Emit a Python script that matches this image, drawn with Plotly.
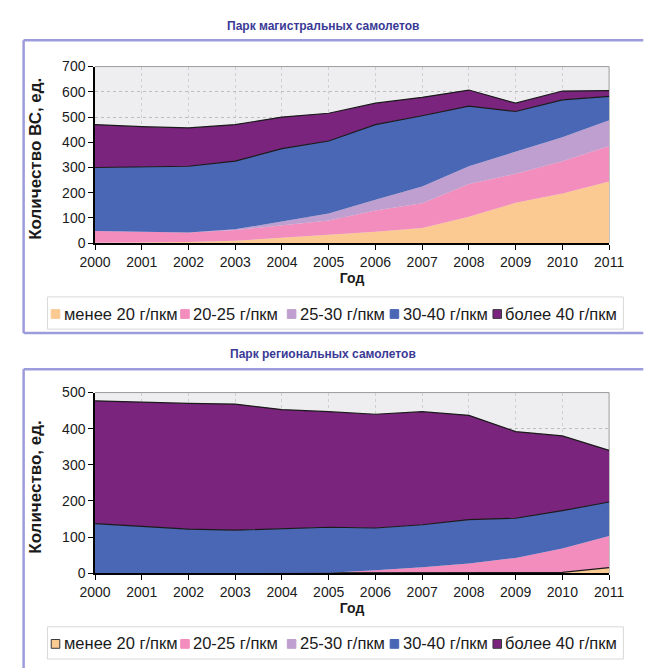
import plotly.graph_objects as go

# ---- data -------------------------------------------------------------
years = list(range(2000, 2012))

series_names = ["менее 20 г/пкм", "20-25 г/пкм", "25-30 г/пкм", "30-40 г/пкм", "более 40 г/пкм"]
series_colors = ["#FBC992", "#F28DBD", "#BE9FCF", "#4A67B6", "#7B247E"]

# fleet of mainline aircraft, units by fuel-efficiency class
main_lt20 = [2, 3, 5, 10, 22, 32, 45, 60, 105, 160, 197, 245]
main_20_25 = [46, 42, 37, 42, 50, 58, 85, 98, 130, 115, 128, 140]
main_25_30 = [0, 0, 0, 3, 13, 28, 42, 67, 70, 87, 95, 102]
main_30_40 = [252, 257, 263, 270, 290, 287, 298, 280, 238, 160, 148, 95]
main_gt40 = [170, 160, 152, 145, 125, 110, 85, 73, 64, 33, 35, 23]

# fleet of regional aircraft
reg_lt20 = [0, 0, 0, 0, 0, 0, 0, 0, 0, 0, 2, 15]
reg_20_25 = [0, 0, 0, 0, 0, 1, 8, 16, 27, 42, 66, 88]
reg_25_30 = [0, 0, 0, 0, 0, 0, 0, 0, 0, 0, 0, 0]
reg_30_40 = [137, 130, 122, 119, 122, 126, 117, 118, 121, 110, 105, 94]
reg_gt40 = [340, 343, 348, 349, 331, 320, 315, 313, 289, 240, 207, 143]

main_y_ticks = [0, 100, 200, 300, 400, 500, 600, 700]
reg_y_ticks = [0, 100, 200, 300, 400, 500]

# ---- page geometry ----------------------------------------------------
W, H = 646, 668
FONT = "Liberation Sans, Arial, sans-serif"


def fx(p):
    return p / W


def fy(p):
    return 1 - p / H


fig = go.Figure()

panels = [
    dict(ax="", vals=[main_lt20, main_20_25, main_25_30, main_30_40, main_gt40],
         top=60, bottom=241, ymax=700, ticks=main_y_ticks,
         title="Парк магистральных самолетов", ylabel="Количество ВС, ед.",
         frame_top=33, frame_bottom=333, outline_orange=False),
    dict(ax="2", vals=[reg_lt20, reg_20_25, reg_25_30, reg_30_40, reg_gt40],
         top=394, bottom=579, ymax=500, ticks=reg_y_ticks,
         title="Парк региональных самолетов", ylabel="Количество, ед.",
         frame_top=370, frame_bottom=None, outline_orange=True),
]

X0, X1 = 83, 623
shapes = []
annotations = []
FRAME = dict(color="#9c9cdc", width=2.5)

for p in panels:
    xa = "x" + p["ax"]
    ya = "y" + p["ax"]
    for i, (name, color, vals) in enumerate(zip(series_names, series_colors, p["vals"])):
        dark = (i >= 3) or (i == 0 and p["outline_orange"])
        fig.add_trace(go.Scatter(
            x=years, y=vals, name=name, mode="lines",
            stackgroup="s" + p["ax"], fillcolor=color,
            line=dict(color="#1a1a1a" if dark else color, width=1.2 if dark else 0),
            xaxis=xa, yaxis=ya, showlegend=False, hoverinfo="skip",
        ))

    axis_common = dict(
        showline=True, linecolor="#000000", linewidth=1.5,
        ticks="outside", ticklen=5, tickcolor="#000000", tickwidth=1.2,
        tickfont=dict(family=FONT, size=14, color="#1a1a1a"),
        showgrid=True, gridcolor="#bdbdbd", griddash="dot", gridwidth=1,
        zeroline=False, layer="above traces",
    )
    fig.update_layout({
        "xaxis" + p["ax"]: dict(
            axis_common, domain=[fx(X0), fx(X1)], range=[2000, 2011],
            tickmode="array", tickvals=years, ticktext=[str(y) for y in years],
            anchor=ya, gridcolor="#d0d0d4",
            title=dict(text="<b>Год</b>", font=dict(family=FONT, size=14, color="#1a1a1a"),
                       standoff=2),
        ),
        "yaxis" + p["ax"]: dict(
            axis_common, domain=[fy(p["bottom"]), fy(p["top"])], range=[0, p["ymax"]],
            tickmode="array", tickvals=p["ticks"], anchor=xa,
        ),
    })

    # plot-area border on top and right
    yd = "y" + p["ax"] + " domain"
    xd = "x" + p["ax"] + " domain"
    shapes.append(dict(type="line", xref=xd, yref=yd, x0=0, x1=1, y0=1, y1=1,
                       line=dict(color="#9a9a9a", width=1), layer="above"))
    shapes.append(dict(type="line", xref=xd, yref=yd, x0=1, x1=1, y0=0, y1=1,
                       line=dict(color="#9a9a9a", width=1), layer="below"))

    # outer frame of the panel (open towards the right edge of the page)
    ft = fy(p["frame_top"])
    fb = fy(p["frame_bottom"]) if p["frame_bottom"] is not None else -0.05
    shapes.append(dict(type="line", xref="paper", yref="paper",
                       x0=fx(8), x1=1.02, y0=ft, y1=ft, line=FRAME, layer="below"))
    shapes.append(dict(type="line", xref="paper", yref="paper",
                       x0=fx(8), x1=fx(8), y0=fb, y1=ft, line=FRAME, layer="below"))
    if p["frame_bottom"] is not None:
        shapes.append(dict(type="line", xref="paper", yref="paper",
                           x0=fx(8), x1=1.02, y0=fb, y1=fb, line=FRAME, layer="below"))

    # panel title
    annotations.append(dict(text="<b>" + p["title"] + "</b>", xref="paper", yref="paper",
                            x=fx(322), y=fy(p["frame_top"] - 15), showarrow=False,
                            xanchor="center", yanchor="middle",
                            font=dict(family=FONT, size=12, color="#3a3a96")))
    # y-axis title
    annotations.append(dict(text="<b>" + p["ylabel"] + "</b>", xref="paper", yref="paper",
                            x=fx(21), y=fy((p["top"] + p["bottom"]) / 2 + 4), showarrow=False,
                            textangle=-90, xanchor="center", yanchor="middle",
                            font=dict(family=FONT, size=17, color="#1a1a1a")))

    # legend box with swatches
    ly = p["bottom"] + 72
    shapes.append(dict(type="rect", xref="paper", yref="paper",
                       x0=fx(33), x1=fx(638), y0=fy(ly + 16), y1=fy(ly - 17),
                       line=dict(color="#d8d8d8", width=1), fillcolor="white", layer="below"))
    sw_x = [37, 173, 285, 393, 501]
    for i, (name, color) in enumerate(zip(series_names, series_colors)):
        border = "#3a3a3a" if (i == 0 and p["outline_orange"]) or i == 4 else color
        shapes.append(dict(type="rect", xref="paper", yref="paper",
                           x0=fx(sw_x[i]), x1=fx(sw_x[i] + 9), y0=fy(ly + 5), y1=fy(ly - 4),
                           fillcolor=color, line=dict(color=border, width=1)))
        annotations.append(dict(text=name, xref="paper", yref="paper",
                                x=fx(sw_x[i] + 11), y=fy(ly), showarrow=False,
                                xanchor="left", yanchor="middle",
                                font=dict(family=FONT, size=16.5, color="#1a1a1a")))

fig.update_layout(
    width=W, height=H,
    margin=dict(l=0, r=0, t=0, b=0),
    paper_bgcolor="white",
    plot_bgcolor="#eeeef0",
    showlegend=False,
    shapes=shapes,
    annotations=annotations,
)

fig.write_html("out.html")
